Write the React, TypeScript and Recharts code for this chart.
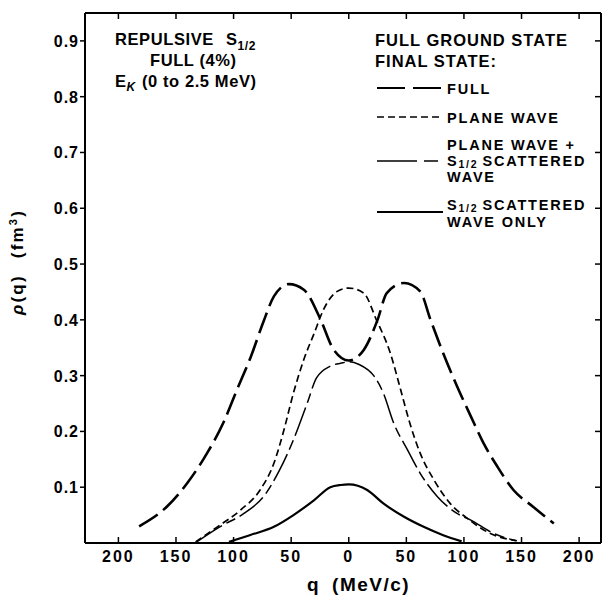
import React from 'react';
import { LineChart, Line, XAxis, YAxis } from 'recharts';

// q (MeV/c) and rho(q) (fm^3)
const fullQ = [-182, -158, -140, -123, -109, -97, -85, -74, -65, -52, -39, -25, -13, 0, 13, 25, 33, 48, 62, 71, 82, 94, 106, 117, 129, 143, 160, 178];
const fullRho = [0.03, 0.065, 0.108, 0.161, 0.215, 0.275, 0.334, 0.397, 0.442, 0.464, 0.454, 0.403, 0.346, 0.327, 0.346, 0.4, 0.448, 0.466, 0.451, 0.4, 0.34, 0.281, 0.227, 0.179, 0.137, 0.095, 0.065, 0.035];

const planeQ = [-133, -114, -94, -77, -65, -57, -48, -39, -30, -22, -10, 0, 13, 24, 36, 45, 53, 62, 74, 88, 103, 123, 146];
const planeRho = [0.002, 0.029, 0.059, 0.095, 0.143, 0.197, 0.269, 0.329, 0.376, 0.418, 0.451, 0.457, 0.448, 0.4, 0.341, 0.275, 0.215, 0.161, 0.113, 0.071, 0.044, 0.017, 0.004];

const planeSQ = [-132, -112, -91, -74, -60, -48, -36, -28, -16, -5, 0, 9, 22, 30, 39, 51, 62, 77, 94, 106, 125, 145];
const planeSRho = [0.002, 0.029, 0.053, 0.083, 0.131, 0.185, 0.251, 0.296, 0.317, 0.323, 0.325, 0.32, 0.299, 0.269, 0.215, 0.167, 0.125, 0.083, 0.053, 0.041, 0.018, 0.004];

const sOnlyQ = [-104, -86, -65, -48, -30, -16, -7, 0, 16, 30, 48, 65, 82, 98];
const sOnlyRho = [0.002, 0.014, 0.029, 0.05, 0.077, 0.1, 0.104, 0.105, 0.095, 0.071, 0.047, 0.029, 0.014, 0.003];

const xTicks = [-200, -150, -100, -50, 0, 50, 100, 150, 200];
const xTickLabels = ['200', '150', '100', '50', '0', '50', '100', '150', '200'];
const yTicks = [0.1, 0.2, 0.3, 0.4, 0.5, 0.6, 0.7, 0.8, 0.9];
const yTickLabels = ['0.1', '0.2', '0.3', '0.4', '0.5', '0.6', '0.7', '0.8', '0.9'];

const toPoints = (q: number[], r: number[]) => q.map((v, i) => ({ q: v, rho: r[i] }));
const fullData = toPoints(fullQ, fullRho);
const planeData = toPoints(planeQ, planeRho);
const planeSData = toPoints(planeSQ, planeSRho);
const sOnlyData = toPoints(sOnlyQ, sOnlyRho);

const FONT = '"Liberation Sans", Arial, sans-serif';
const DASH_FULL = '22 7';
const DASH_PLANE = '7 4';
const DASH_PLANES = '30 5 10 5';

const txt = { fontFamily: FONT, fontWeight: 700, fill: '#000' } as const;

const BottomTick = (p: any) => {
  const { x, y, payload } = p;
  const i = xTicks.indexOf(payload.value);
  return (
    <g>
      <line x1={x} y1={y} x2={x} y2={y - 6} stroke="#000" strokeWidth={1.5} />
      <text x={x} y={y + 19} textAnchor="middle" fontSize={16} letterSpacing={2} {...txt}>
        {i >= 0 ? xTickLabels[i] : ''}
      </text>
    </g>
  );
};
const TopTick = (p: any) => {
  const { x, y } = p;
  return <line x1={x} y1={y} x2={x} y2={y + 6} stroke="#000" strokeWidth={1.5} />;
};
const LeftTick = (p: any) => {
  const { x, y, payload } = p;
  const i = yTicks.indexOf(payload.value);
  return (
    <g>
      <line x1={x} y1={y} x2={x - 5} y2={y} stroke="#000" strokeWidth={1.5} />
      <text x={x - 6} y={y + 6} textAnchor="end" fontSize={16} letterSpacing={1} {...txt}>
        {i >= 0 ? yTickLabels[i] : ''}
      </text>
    </g>
  );
};
const RightTick = (p: any) => {
  const { x, y } = p;
  return <line x1={x} y1={y} x2={x - 6} y2={y} stroke="#000" strokeWidth={1.5} />;
};

const W = 605;
const H = 597;
const LEG = 14.5;

export default function App() {
  return (
    <div style={{ position: 'absolute', left: 0, top: 0, width: W, height: H, background: '#fff' }}>
      <LineChart width={W} height={H} margin={{ top: 12, right: 3, bottom: 14, left: 25 }}>
        <XAxis
          xAxisId={0}
          type="number"
          dataKey="q"
          domain={[-229, 219]}
          ticks={xTicks}
          allowDataOverflow
          height={40}
          tickSize={0}
          tickMargin={0}
          tickLine={false}
          axisLine={{ stroke: '#000', strokeWidth: 2 }}
          tick={<BottomTick />}
          interval={0}
        />
        <XAxis
          xAxisId="top"
          orientation="top"
          type="number"
          dataKey="q"
          domain={[-229, 219]}
          ticks={xTicks}
          allowDataOverflow
          height={1}
          tickSize={0}
          tickMargin={0}
          tickLine={false}
          axisLine={{ stroke: '#000', strokeWidth: 2 }}
          tick={<TopTick />}
          interval={0}
        />
        <YAxis
          yAxisId={0}
          type="number"
          domain={[0, 0.95]}
          ticks={yTicks}
          allowDataOverflow
          width={60}
          tickSize={0}
          tickMargin={0}
          tickLine={false}
          axisLine={{ stroke: '#000', strokeWidth: 2 }}
          tick={<LeftTick />}
          interval={0}
        />
        <YAxis
          yAxisId="right"
          orientation="right"
          type="number"
          domain={[0, 0.95]}
          ticks={yTicks}
          allowDataOverflow
          width={1}
          tickSize={0}
          tickMargin={0}
          tickLine={false}
          axisLine={{ stroke: '#000', strokeWidth: 2 }}
          tick={<RightTick />}
          interval={0}
        />
        <Line data={fullData} dataKey="rho" type="monotone" stroke="#000" strokeWidth={2.6} strokeDasharray={DASH_FULL} dot={false} isAnimationActive={false} />
        <Line data={planeData} dataKey="rho" type="monotone" stroke="#000" strokeWidth={1.7} strokeDasharray={DASH_PLANE} dot={false} isAnimationActive={false} />
        <Line data={planeSData} dataKey="rho" type="monotone" stroke="#000" strokeWidth={1.5} strokeDasharray={DASH_PLANES} dot={false} isAnimationActive={false} />
        <Line data={sOnlyData} dataKey="rho" type="monotone" stroke="#000" strokeWidth={2.2} dot={false} isAnimationActive={false} />
      </LineChart>
      <svg width={W} height={H} style={{ position: 'absolute', left: 0, top: 0, pointerEvents: 'none' }}>
        {/* top-left annotation */}
        <text x={115} y={45} fontSize={16.5} letterSpacing={0.6} {...txt}>
          REPULSIVE
          <tspan dx={12}>S</tspan>
          <tspan dy={5} fontSize={12}>1/2</tspan>
        </text>
        <text x={150} y={66} fontSize={16.5} letterSpacing={0.6} {...txt}>FULL (4%)</text>
        <text x={115} y={87} fontSize={16.5} letterSpacing={0.6} {...txt}>
          E<tspan dy={4} fontSize={12} fontStyle="italic">K</tspan>
          <tspan dy={-4} dx={6}>(0 to 2.5 MeV)</tspan>
        </text>

        {/* legend */}
        <text x={375} y={46} fontSize={16.5} letterSpacing={1} {...txt}>FULL GROUND STATE</text>
        <text x={375} y={67} fontSize={16.5} letterSpacing={1} {...txt}>FINAL STATE:</text>

        <line x1={377} y1={88} x2={443} y2={88} stroke="#000" strokeWidth={2} strokeDasharray="28 8" />
        <text x={447} y={94} fontSize={LEG} letterSpacing={1.8} {...txt}>FULL</text>

        <line x1={377} y1={117} x2={443} y2={117} stroke="#000" strokeWidth={1.6} strokeDasharray={DASH_PLANE} />
        <text x={447} y={123} fontSize={LEG} letterSpacing={1.8} {...txt}>PLANE WAVE</text>

        <line x1={377} y1={161} x2={440} y2={161} stroke="#000" strokeWidth={1.5} strokeDasharray="40 7 14 7" />
        <text x={447} y={150} fontSize={LEG} letterSpacing={1.8} {...txt}>PLANE WAVE +</text>
        <text x={447} y={166} fontSize={LEG} letterSpacing={1.8} {...txt}>
          S<tspan dy={2} fontSize={10.5}>1/2</tspan>
          <tspan dy={-2} dx={4}>SCATTERED</tspan>
        </text>
        <text x={447} y={182} fontSize={LEG} letterSpacing={1.8} {...txt}>WAVE</text>

        <line x1={377} y1={212} x2={443} y2={212} stroke="#000" strokeWidth={1.8} />
        <text x={447} y={210} fontSize={LEG} letterSpacing={1.8} {...txt}>
          S<tspan dy={2} fontSize={10.5}>1/2</tspan>
          <tspan dy={-2} dx={4}>SCATTERED</tspan>
        </text>
        <text x={447} y={227} fontSize={LEG} letterSpacing={1.8} {...txt}>WAVE ONLY</text>

        {/* axis titles */}
        <text x={307} y={591} fontSize={19} letterSpacing={1.5} {...txt}>
          q<tspan dx={12}>(MeV/c)</tspan>
        </text>
        <text transform="translate(23,262) rotate(-90)" textAnchor="middle" fontSize={17} letterSpacing={2.2} {...txt}>
          <tspan fontStyle="italic">ρ</tspan>(q)<tspan dx={16}>(fm</tspan>
          <tspan dy={-6} fontSize={11}>3</tspan>
          <tspan dy={6}>)</tspan>
        </text>
      </svg>
    </div>
  );
}
